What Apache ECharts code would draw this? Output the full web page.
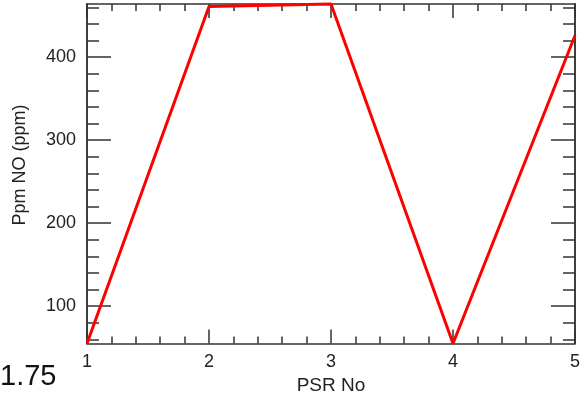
<!DOCTYPE html>
<html>
<head>
<meta charset="utf-8">
<style>
  html, body { margin: 0; padding: 0; background: #fff; }
  #chart { width: 585px; height: 396px; }
</style>
<script src="https://cdn.jsdelivr.net/npm/echarts@6/dist/echarts.min.js"></script>
</head>
<body>
<div id="chart"></div>
<script>
// PSR number along the horizontal axis, NO concentration per reactor
const psrNo = [1, 2, 3, 4, 5];
const ppmNO = [55, 461, 464, 55, 426];

// Vertical axis range and tick positions
const yRange = [55, 464];
const yMajorTicks = [100, 200, 300, 400];
const yMinorTicks = [60, 80, 120, 140, 160, 180, 220, 240, 260, 280, 320, 340, 360, 380, 420, 440, 460];
const xTickLabels = ['1', '2', '3', '4', '5'];

const axisColor = '#333';
const textColor = '#222';
const fontFamily = 'Liberation Sans, Arial, sans-serif';
const tickFont = 18;

const chart = echarts.init(document.getElementById('chart'), null, { renderer: 'canvas' });

function xAxisDef(position, showLabels) {
  return {
    type: 'value',
    position: position,
    min: psrNo[0],
    max: psrNo[psrNo.length - 1],
    interval: 1,
    name: showLabels ? 'PSR No' : '',
    nameLocation: 'middle',
    nameGap: 32,
    nameTextStyle: { color: textColor, fontSize: 19, fontFamily: fontFamily },
    axisLine: { show: true, onZero: false, lineStyle: { color: axisColor, width: 1.5 } },
    axisTick: { show: true, inside: true, length: 14, lineStyle: { color: axisColor, width: 1.5 } },
    minorTick: { show: true, splitNumber: 5, length: 7, lineStyle: { color: axisColor, width: 1.5 } },
    axisLabel: {
      show: showLabels,
      margin: 10,
      color: textColor,
      fontSize: tickFont,
      fontFamily: fontFamily,
      formatter: function (v) { return xTickLabels[psrNo.indexOf(v)] || ''; }
    },
    splitLine: { show: false }
  };
}

function yAxisDef(position, ticks, len, showLabels) {
  return {
    type: 'value',
    position: position,
    min: yRange[0],
    max: yRange[1],
    axisLine: { show: true, onZero: false, lineStyle: { color: axisColor, width: 1.5 } },
    axisTick: { show: true, inside: true, length: len, customValues: ticks, lineStyle: { color: axisColor, width: 1.5 } },
    axisLabel: {
      show: showLabels,
      customValues: showLabels ? yMajorTicks : undefined,
      margin: 11,
      color: textColor,
      fontSize: tickFont,
      fontFamily: fontFamily
    },
    splitLine: { show: false }
  };
}

chart.setOption({
  animation: false,
  backgroundColor: '#fff',
  grid: { left: 87, right: 10, top: 4, bottom: 52.5, outerBoundsMode: 'none', containLabel: false },
  xAxis: [xAxisDef('bottom', true), xAxisDef('top', false)],
  yAxis: [
    yAxisDef('left', yMajorTicks, 24, true),
    yAxisDef('left', yMinorTicks, 12, false),
    yAxisDef('right', yMajorTicks, 24, false),
    yAxisDef('right', yMinorTicks, 12, false)
  ],
  graphic: [
    {
      // vertical axis title
      type: 'text',
      x: 20,
      y: 165,
      rotation: Math.PI / 2,
      style: {
        text: 'Ppm NO (ppm)',
        fontSize: 18,
        fontFamily: fontFamily,
        fill: textColor,
        align: 'center',
        verticalAlign: 'middle'
      }
    },
    {
      type: 'text',
      left: 0,
      top: 362,
      style: { text: '1.75', fontSize: 29, fontFamily: fontFamily, fill: '#111' }
    }
  ],
  series: [{
    type: 'line',
    xAxisIndex: 0,
    yAxisIndex: 0,
    data: psrNo.map(function (x, i) { return [x, ppmNO[i]]; }),
    showSymbol: false,
    clip: false,
    lineStyle: { color: '#ff0000', width: 3 },
    z: 1
  }]
});
</script>
</body>
</html>
